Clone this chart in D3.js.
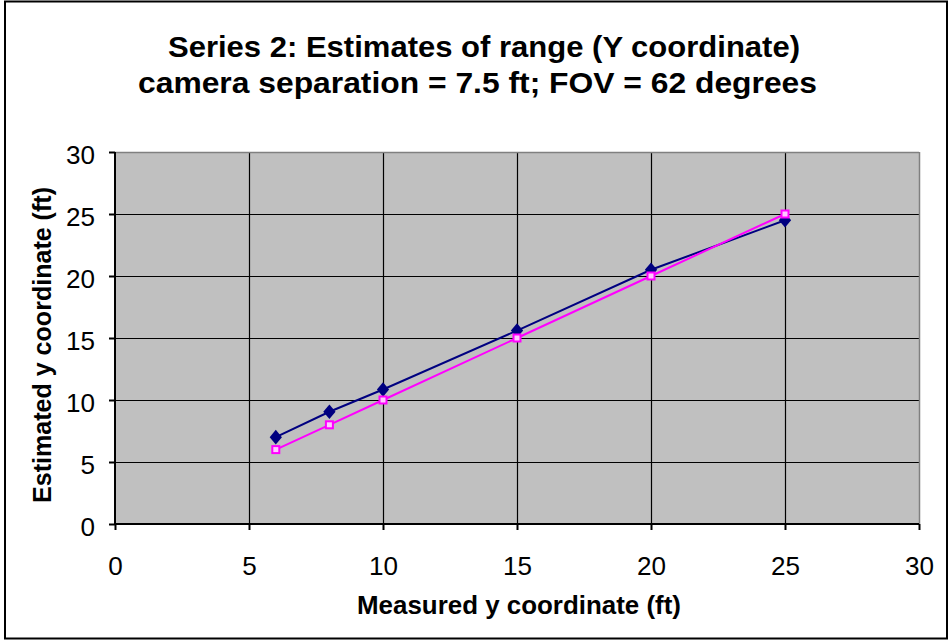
<!DOCTYPE html>
<html>
<head>
<meta charset="utf-8">
<script src="https://cdn.jsdelivr.net/npm/d3@7"></script>
<style>
  html, body { margin: 0; padding: 0; background: #fff; }
  svg { display: block; font-family: Arial, "Liberation Sans", sans-serif; }
</style>
</head>
<body>
<svg id="chart" width="949" height="640"></svg>
<script>
const titleLines = ["Series 2: Estimates of range (Y coordinate)", "camera separation = 7.5 ft; FOV = 62 degrees"];
const xLabel = "Measured y coordinate (ft)";
const yLabel = "Estimated y coordinate (ft)";
const measured = [6, 8, 10, 15, 20, 25];
const estimated = [7, 9.05, 10.85, 15.6, 20.5, 24.5];
const ideal = [6, 8, 10, 15, 20, 25];
const xTicks = [0, 5, 10, 15, 20, 25, 30];
const yTicks = [0, 5, 10, 15, 20, 25, 30];

const svg = d3.select("#chart");
const plot = { left: 115, right: 919, top: 152, bottom: 524 };

svg.append("rect").attr("x", 5).attr("y", 1.5).attr("width", 942).attr("height", 637)
  .attr("fill", "#fff").attr("stroke", "#000").attr("stroke-width", 2);

const x = d3.scaleLinear().domain([0, 30]).range([plot.left, plot.right]);
const y = d3.scaleLinear().domain([0, 30]).range([plot.bottom, plot.top]);

svg.append("rect").attr("x", plot.left).attr("y", plot.top)
  .attr("width", plot.right - plot.left).attr("height", plot.bottom - plot.top)
  .attr("fill", "#C0C0C0");

// gridlines
const g = svg.append("g");
g.selectAll("line.vx").data(xTicks.filter(d => d > 0 && d < 30)).join("line")
  .attr("x1", d => Math.round(x(d)) + 0.5).attr("x2", d => Math.round(x(d)) + 0.5)
  .attr("y1", plot.top).attr("y2", plot.bottom).attr("stroke", "#000").attr("stroke-width", 1.2);
g.selectAll("line.hy").data(yTicks.filter(d => d > 0 && d < 30)).join("line")
  .attr("y1", d => Math.round(y(d)) + 0.5).attr("y2", d => Math.round(y(d)) + 0.5)
  .attr("x1", plot.left).attr("x2", plot.right).attr("stroke", "#000").attr("stroke-width", 1.2);

// top and right border gray
svg.append("line").attr("x1", plot.left).attr("x2", plot.right).attr("y1", plot.top + 0.5).attr("y2", plot.top + 0.5)
  .attr("stroke", "#808080").attr("stroke-width", 1.5);
svg.append("line").attr("x1", plot.right + 0.5).attr("x2", plot.right + 0.5).attr("y1", plot.top).attr("y2", plot.bottom)
  .attr("stroke", "#808080").attr("stroke-width", 1.5);

// axes
const xAxis = d3.axisBottom(x).tickValues(xTicks).tickSize(6).tickPadding(27).tickFormat(d3.format("d"));
const yAxis = d3.axisLeft(y).tickValues(yTicks).tickSize(6).tickPadding(14).tickFormat(d3.format("d"));
const gx = svg.append("g").attr("transform", `translate(0,${plot.bottom})`).call(xAxis);
const gy = svg.append("g").attr("transform", `translate(${plot.left},0)`).call(yAxis);
[gx, gy].forEach(a => {
  a.select(".domain").attr("stroke", "#000").attr("stroke-width", 2);
  a.selectAll(".tick line").attr("stroke", "#000").attr("stroke-width", 2);
  a.selectAll(".tick text").attr("fill", "#000").style("font-size", "25px")
    .style("font-family", "Arial, 'Liberation Sans', sans-serif")
    .attr("textLength", d => String(d).length * 14.5).attr("lengthAdjust", "spacingAndGlyphs");
});
gx.selectAll(".tick text").attr("dy", "0.71em");
gy.selectAll(".tick text").attr("dy", "0.45em");
gx.select(".domain").attr("d", `M${plot.left},0H${plot.right}`);
gy.select(".domain").attr("d", `M0,${plot.top}V${plot.bottom}`);

// series lines
const line = d3.line().x(d => x(d[0])).y(d => y(d[1]));
const s1 = measured.map((m, i) => [m, estimated[i]]);
const s2 = measured.map((m, i) => [m, ideal[i]]);

svg.append("path").datum(s1).attr("d", line).attr("fill", "none").attr("stroke", "#000080").attr("stroke-width", 2);
svg.append("path").datum(s2).attr("d", line).attr("fill", "none").attr("stroke", "#FF00FF").attr("stroke-width", 2);

svg.selectAll("path.dia").data(s1).join("path")
  .attr("d", d3.symbol().type(d3.symbolDiamond).size(62))
  .attr("transform", d => `translate(${x(d[0])},${y(d[1])}) scale(1.45,1)`)
  .attr("fill", "#000080");
svg.selectAll("rect.sq").data(s2).join("rect")
  .attr("x", d => x(d[0]) - 3.5).attr("y", d => y(d[1]) - 3.5).attr("width", 7).attr("height", 7)
  .attr("fill", "#FFC8FF").attr("stroke", "#FF00FF").attr("stroke-width", 2);

// title
const titleX = [484, 477.5];
const titleW = [632, 679];
svg.append("g").selectAll("text").data(titleLines).join("text")
  .attr("x", (d, i) => titleX[i]).attr("y", (d, i) => 57 + i * 36)
  .attr("text-anchor", "middle")
  .attr("textLength", (d, i) => titleW[i]).attr("lengthAdjust", "spacingAndGlyphs")
  .style("font-size", "30px").style("font-weight", "bold").attr("fill", "#000")
  .text(d => d);

svg.append("text").attr("x", 519).attr("y", 614).attr("text-anchor", "middle")
  .attr("textLength", 324).attr("lengthAdjust", "spacingAndGlyphs")
  .style("font-size", "25px").style("font-weight", "bold").text(xLabel);
svg.append("text").attr("transform", `translate(51,345) rotate(-90)`).attr("text-anchor", "middle")
  .attr("textLength", 316).attr("lengthAdjust", "spacingAndGlyphs")
  .style("font-size", "25px").style("font-weight", "bold").text(yLabel);
</script>
</body>
</html>
